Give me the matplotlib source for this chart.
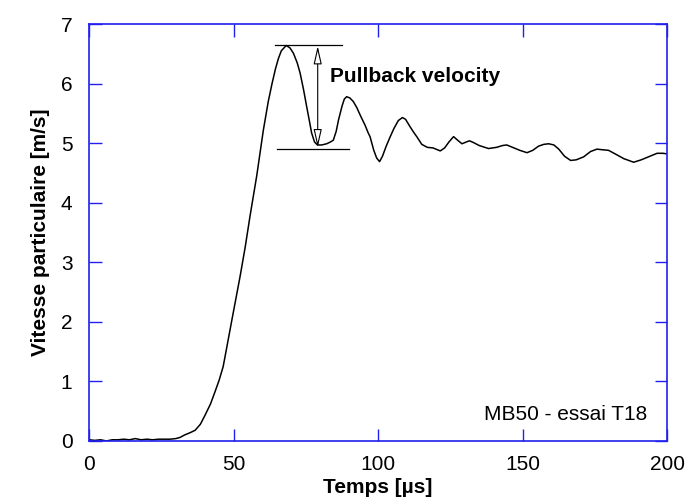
import matplotlib
matplotlib.use("Agg")
import matplotlib.pyplot as plt

plt.rcParams['font.family'] = ['Liberation Sans', 'DejaVu Sans']

time_us = [0, 2, 4, 6, 8, 10, 12, 14, 16, 18, 20, 22, 24, 26, 28, 30, 31.5, 33, 35, 36.7,
           38.5, 40, 42, 43.6, 45, 46.4, 47.6, 49.4, 52.2, 54, 55.7, 58, 60.3, 62, 63.3,
           64.5, 65.5, 66.5, 68.2, 69.5, 70.7, 72, 73, 74.2, 75.3, 76.2, 77, 78, 79, 80.5,
           82.2, 83.5, 84.5, 85.5, 86.3, 87.5, 88.3, 89.1, 90.2, 91.4, 92.6, 94, 95.5, 96.5,
           97.2, 98.5, 99.5, 100.5, 101.5, 102.8, 104.2, 105.5, 107, 108.4, 109.5, 111, 112.2,
           113.5, 115.1, 117, 119, 121.5, 123, 124.5, 126.1, 127.5, 129, 130.5, 131.6, 133,
           135, 138.2, 141, 143, 144.5, 146.5, 149, 151.5, 153.5, 155.5, 157.3, 159, 160.8,
           162.5, 164.5, 166.6, 168.5, 171.1, 173.5, 175.7, 177.5, 179.7, 182, 185, 188.4,
           191, 194, 196.5, 198.5, 200]
velocity = [0.02, 0.01, 0.02, 0.0, 0.02, 0.02, 0.03, 0.02, 0.04, 0.02, 0.03, 0.02, 0.03, 0.03,
            0.03, 0.04, 0.06, 0.10, 0.14, 0.18, 0.28, 0.42, 0.62, 0.83, 1.02, 1.25, 1.56, 2.03,
            2.75, 3.25, 3.78, 4.45, 5.22, 5.70, 6.00, 6.25, 6.42, 6.55, 6.64, 6.60, 6.51,
            6.35, 6.18, 5.90, 5.61, 5.38, 5.17, 5.02, 4.97, 4.97, 4.99, 5.02, 5.05, 5.20, 5.39,
            5.62, 5.74, 5.78, 5.76, 5.70, 5.60, 5.45, 5.30, 5.18, 5.11, 4.88, 4.75, 4.69, 4.78,
            4.95, 5.11, 5.25, 5.38, 5.43, 5.40, 5.28, 5.19, 5.10, 4.98, 4.93, 4.92, 4.87, 4.92,
            5.02, 5.11, 5.05, 4.99, 5.02, 5.04, 5.01, 4.96, 4.91, 4.93, 4.96, 4.97, 4.93, 4.88,
            4.84, 4.88, 4.95, 4.98, 4.99, 4.97, 4.90, 4.78, 4.71, 4.72, 4.77, 4.86, 4.90, 4.89,
            4.88, 4.82, 4.74, 4.68, 4.72, 4.78, 4.83, 4.83, 4.82]

peak_v = 6.65
trough_v = 4.91
x_ticks = [0, 50, 100, 150, 200]
y_ticks = [0, 1, 2, 3, 4, 5, 6, 7]

blue = '#2020ee'

fig = plt.figure(figsize=(6.85, 5.01), dpi=100)
ax = fig.add_axes([0.130, 0.1198, 0.844, 0.8322])
ax.plot(time_us, velocity, color='black', lw=1.1)

# annotation lines
ax.plot([64.4, 87.4], [peak_v, peak_v], color='black', lw=0.9)
ax.plot([65, 90], [trough_v, trough_v], color='black', lw=0.9)
ax.annotate('', xy=(79.1, trough_v + 0.02), xytext=(79.1, peak_v - 0.02),
            arrowprops=dict(arrowstyle='<|-|>,head_length=1.1,head_width=0.25',
                            color='black', lw=0.8, fc='white', mutation_scale=10,
                            shrinkA=0, shrinkB=0))
ax.text(83.5, 6.12, 'Pullback velocity', fontsize=15, fontweight='bold',
        ha='left', va='center')
ax.text(193, 0.44, 'MB50 - essai T18', fontsize=15, ha='right', va='center')

ax.set_xlim(0, 200)
ax.set_ylim(0, 7)
ax.set_xticks(x_ticks)
ax.set_yticks(y_ticks)
ax.tick_params(direction='in', length=9, width=1, color=blue, labelsize=15,
               top=True, right=True, pad=12)
ax.tick_params(axis='x', pad=10)
for s in ax.spines.values():
    s.set_color(blue)
    s.set_linewidth(1.2)
ax.set_xlabel('Temps [µs]', fontsize=15, fontweight='bold', labelpad=3)
ax.set_ylabel('Vitesse particulaire [m/s]', fontsize=15, fontweight='bold', labelpad=8)

fig.savefig('out.png', dpi=100)
